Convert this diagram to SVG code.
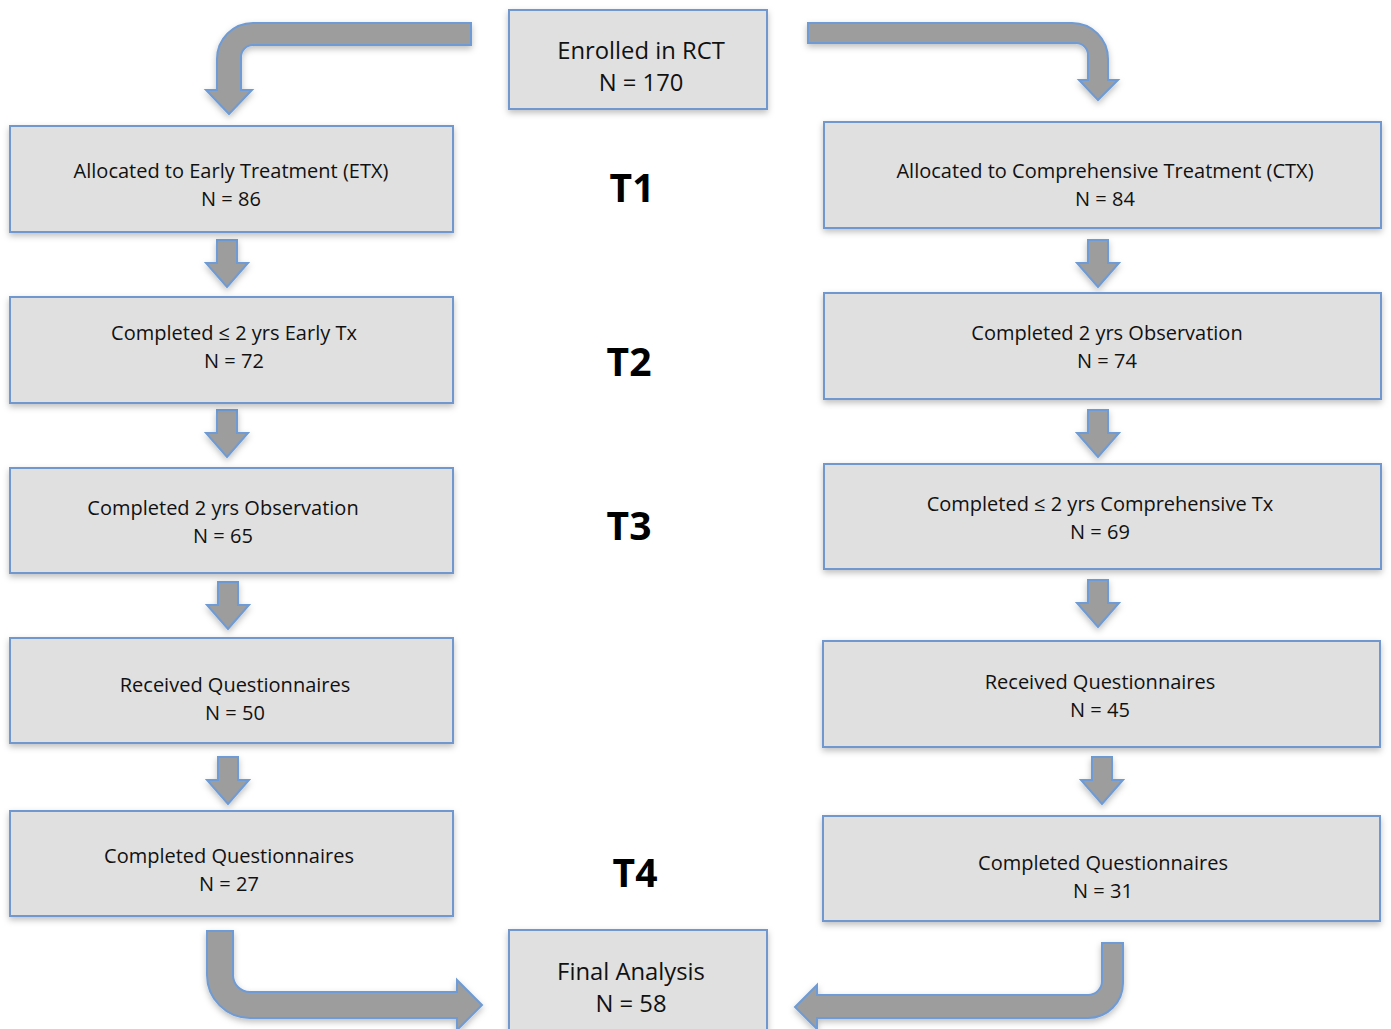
<svg xmlns="http://www.w3.org/2000/svg" width="1391" height="1029" viewBox="0 0 1391 1029">
<defs>
<filter id="sh" x="-5%" y="-10%" width="110%" height="130%">
<feDropShadow dx="0" dy="3" stdDeviation="3" flood-color="#000" flood-opacity="0.25"/>
</filter>
<path id="dn" d="M -10 0 H 10 V 23 H 21 L 0 47 L -21 23 H -10 Z"/>
</defs>
<style>
.box{fill:#e0e0e0;stroke:#7097cf;stroke-width:2}
.arr{fill:#9d9d9d;stroke:#6e9bd5;stroke-width:2;stroke-linejoin:miter}
.t{font-family:"Open Sans","Liberation Sans",sans-serif;font-size:20px;fill:#111;text-anchor:middle}
.tb{font-family:"Open Sans","Liberation Sans",sans-serif;font-size:23.8px;fill:#111;text-anchor:middle}
.lab{font-family:"Open Sans","Liberation Sans",sans-serif;font-size:39px;font-weight:bold;fill:#000;text-anchor:middle}
</style>
<rect width="1391" height="1029" fill="#fff"/>
<g id="connectors" filter="url(#sh)">
<path class="arr" d="M 471 23 H 253 A 36 36 0 0 0 217 59 V 90 H 206 L 229 114 L 252 90 H 241 V 57 A 12 12 0 0 1 253 45 H 471 Z"/>
<path class="arr" d="M 808 23 H 1072 A 36 36 0 0 1 1108 59 V 80 H 1118 L 1098 100 L 1079 80 H 1088 V 55 A 12 12 0 0 0 1076 43 H 808 Z"/>
<path class="arr" d="M 207 931 H 233 V 975 A 17 17 0 0 0 250 992 H 457 V 980 L 482 1005 L 457 1030 V 1018 H 250 A 43 43 0 0 1 207 975 Z"/>
<path class="arr" d="M 1102 943 H 1123 V 983 A 35 35 0 0 1 1088 1018 H 817 V 1029 L 795 1007 L 817 985 V 995 H 1088 A 14 14 0 0 0 1102 981 Z"/>
<use href="#dn" class="arr" x="227" y="240"/>
<use href="#dn" class="arr" x="227" y="410"/>
<use href="#dn" class="arr" x="228" y="582"/>
<use href="#dn" class="arr" x="228" y="757"/>
<use href="#dn" class="arr" x="1098" y="240"/>
<use href="#dn" class="arr" x="1098" y="410"/>
<use href="#dn" class="arr" x="1098" y="580"/>
<use href="#dn" class="arr" x="1102" y="757"/>
</g>
<g id="enrolled"><rect class="box" x="509" y="10" width="258" height="99" filter="url(#sh)"/>
<text class="tb" x="641" y="59">Enrolled in RCT</text><text class="tb" x="641" y="91">N = 170</text></g>
<g id="final"><rect class="box" x="509" y="930" width="258" height="110" filter="url(#sh)"/>
<text class="tb" x="631" y="980">Final Analysis</text><text class="tb" x="631" y="1012">N = 58</text></g>
<g id="l1"><rect class="box" x="10" y="126" width="443" height="106" filter="url(#sh)"/>
<text class="t" x="231" y="178">Allocated to Early Treatment (ETX)</text><text class="t" x="231" y="206">N = 86</text></g>
<g id="l2"><rect class="box" x="10" y="297" width="443" height="106" filter="url(#sh)"/>
<text class="t" x="234" y="340">Completed ≤ 2 yrs Early Tx</text><text class="t" x="234" y="368">N = 72</text></g>
<g id="l3"><rect class="box" x="10" y="468" width="443" height="105" filter="url(#sh)"/>
<text class="t" x="223" y="515">Completed 2 yrs Observation</text><text class="t" x="223" y="543">N = 65</text></g>
<g id="l4"><rect class="box" x="10" y="638" width="443" height="105" filter="url(#sh)"/>
<text class="t" x="235" y="692">Received Questionnaires</text><text class="t" x="235" y="720">N = 50</text></g>
<g id="l5"><rect class="box" x="10" y="811" width="443" height="105" filter="url(#sh)"/>
<text class="t" x="229" y="863">Completed Questionnaires</text><text class="t" x="229" y="891">N = 27</text></g>
<g id="r1"><rect class="box" x="824" y="122" width="557" height="106" filter="url(#sh)"/>
<text class="t" x="1105" y="178">Allocated to Comprehensive Treatment (CTX)</text><text class="t" x="1105" y="206">N = 84</text></g>
<g id="r2"><rect class="box" x="824" y="293" width="557" height="106" filter="url(#sh)"/>
<text class="t" x="1107" y="340">Completed 2 yrs Observation</text><text class="t" x="1107" y="368">N = 74</text></g>
<g id="r3"><rect class="box" x="824" y="464" width="557" height="105" filter="url(#sh)"/>
<text class="t" x="1100" y="511">Completed ≤ 2 yrs Comprehensive Tx</text><text class="t" x="1100" y="539">N = 69</text></g>
<g id="r4"><rect class="box" x="823" y="641" width="557" height="106" filter="url(#sh)"/>
<text class="t" x="1100" y="689">Received Questionnaires</text><text class="t" x="1100" y="717">N = 45</text></g>
<g id="r5"><rect class="box" x="823" y="816" width="557" height="105" filter="url(#sh)"/>
<text class="t" x="1103" y="870">Completed Questionnaires</text><text class="t" x="1103" y="898">N = 31</text></g>
<g id="labels">
<text class="lab" x="632" y="202">T1</text>
<text class="lab" x="629" y="376">T2</text>
<text class="lab" x="629" y="540">T3</text>
<text class="lab" x="635" y="887">T4</text>
</g>
</svg>
